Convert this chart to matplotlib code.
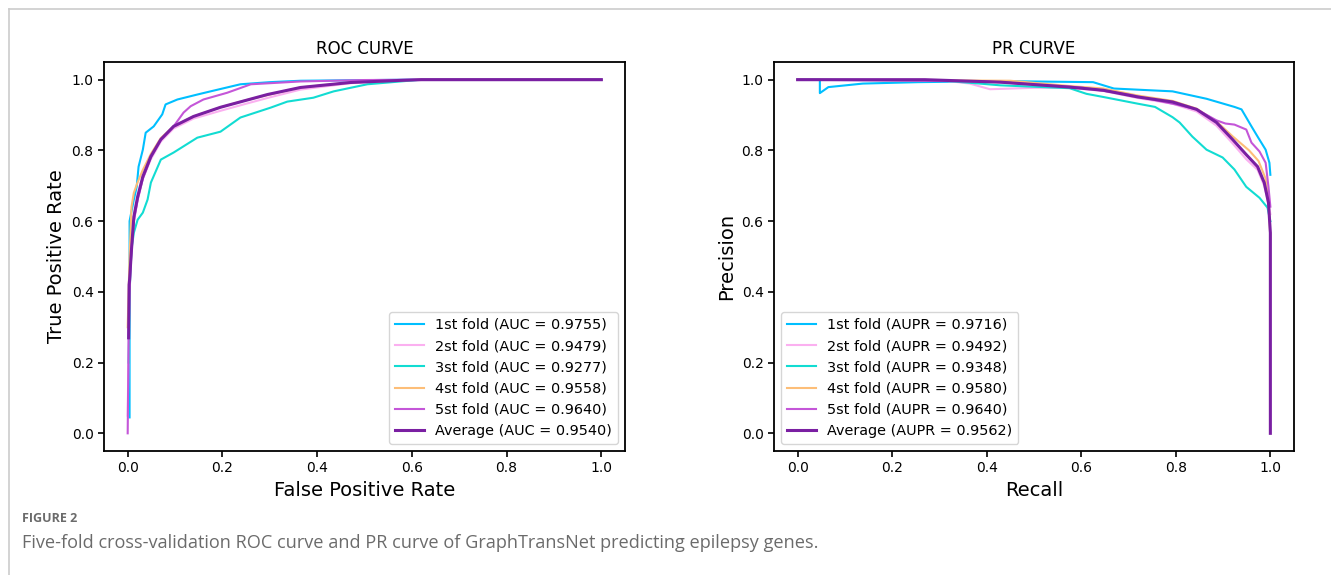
import matplotlib
matplotlib.use('Agg')
import matplotlib.pyplot as plt
from matplotlib.lines import Line2D

# --- data ---
fold_names = ['1st fold', '2st fold', '3st fold', '4st fold', '5st fold', 'Average']
fold_colors = ['#00bfff', '#fbb0f0', '#12dcd2', '#fdbe78', '#c456d8', '#7a1fa2']
auc_vals = [0.9755, 0.9479, 0.9277, 0.9558, 0.9640, 0.9540]
aupr_vals = [0.9716, 0.9492, 0.9348, 0.9580, 0.9640, 0.9562]

# ROC curves (fpr, tpr)
roc_fpr_1 = [0.004, 0.004, 0.013, 0.019, 0.023, 0.032, 0.038, 0.055, 0.073, 0.08, 0.105, 0.147, 0.175, 0.238, 0.30, 0.365, 0.6, 1.0]
roc_tpr_1 = [0.045, 0.60, 0.661, 0.697, 0.754, 0.802, 0.85, 0.868, 0.902, 0.93, 0.944, 0.958, 0.967, 0.987, 0.993, 0.997, 1.0, 1.0]
roc_fpr_2 = [0.0, 0.004, 0.008, 0.013, 0.021, 0.032, 0.049, 0.07, 0.097, 0.139, 0.196, 0.25, 0.30, 0.365, 0.47, 0.58, 0.62, 1.0]
roc_tpr_2 = [0.05, 0.45, 0.52, 0.60, 0.66, 0.72, 0.775, 0.825, 0.862, 0.89, 0.912, 0.932, 0.95, 0.972, 0.99, 0.998, 1.0, 1.0]
roc_fpr_3 = [0.002, 0.004, 0.008, 0.013, 0.021, 0.032, 0.042, 0.049, 0.07, 0.097, 0.147, 0.196, 0.217, 0.238, 0.302, 0.337, 0.392, 0.435, 0.506, 0.576, 0.62, 1.0]
roc_tpr_3 = [0.2, 0.40, 0.52, 0.567, 0.604, 0.624, 0.661, 0.709, 0.774, 0.794, 0.836, 0.853, 0.873, 0.893, 0.921, 0.938, 0.949, 0.967, 0.987, 0.995, 1.0, 1.0]
roc_fpr_4 = [0.0, 0.004, 0.008, 0.013, 0.021, 0.032, 0.049, 0.07, 0.097, 0.139, 0.196, 0.25, 0.30, 0.365, 0.47, 0.576, 0.62, 1.0]
roc_tpr_4 = [0.3, 0.5, 0.64, 0.68, 0.71, 0.745, 0.79, 0.835, 0.868, 0.896, 0.922, 0.942, 0.958, 0.978, 0.992, 0.998, 1.0, 1.0]
roc_fpr_5 = [0.0, 0.002, 0.004, 0.008, 0.013, 0.021, 0.032, 0.049, 0.07, 0.097, 0.118, 0.133, 0.16, 0.21, 0.26, 0.365, 0.5, 0.62, 1.0]
roc_tpr_5 = [0.0, 0.27, 0.40, 0.52, 0.60, 0.66, 0.72, 0.78, 0.83, 0.868, 0.907, 0.925, 0.944, 0.963, 0.987, 0.995, 0.999, 1.0, 1.0]
roc_fpr_avg = [0.002, 0.003, 0.004, 0.008, 0.013, 0.021, 0.032, 0.049, 0.07, 0.097, 0.139, 0.196, 0.295, 0.365, 0.47, 0.576, 0.62, 1.0]
roc_tpr_avg = [0.27, 0.42, 0.434, 0.519, 0.612, 0.669, 0.726, 0.783, 0.831, 0.868, 0.896, 0.922, 0.958, 0.978, 0.992, 0.998, 1.0, 1.0]

# PR curves (recall, precision)
pr_rec_1 = [0.0, 0.047, 0.047, 0.065, 0.138, 0.255, 0.429, 0.625, 0.669, 0.793, 0.865, 0.924, 0.939, 0.96, 0.973, 0.99, 0.998, 1.0]
pr_prec_1 = [1.0, 1.0, 0.962, 0.979, 0.989, 0.993, 0.996, 0.993, 0.975, 0.967, 0.946, 0.923, 0.916, 0.868, 0.839, 0.802, 0.765, 0.731]
pr_rec_2 = [0.0, 0.3, 0.364, 0.407, 0.5, 0.575, 0.647, 0.72, 0.793, 0.844, 0.886, 0.92, 0.949, 0.973, 0.987, 0.996, 1.0]
pr_prec_2 = [1.0, 0.999, 0.989, 0.973, 0.977, 0.977, 0.968, 0.948, 0.932, 0.91, 0.87, 0.82, 0.775, 0.745, 0.70, 0.65, 0.62]
pr_rec_3 = [0.0, 0.3, 0.385, 0.429, 0.575, 0.611, 0.647, 0.72, 0.756, 0.793, 0.808, 0.835, 0.865, 0.899, 0.924, 0.949, 0.977, 0.994, 0.998, 1.0]
pr_prec_3 = [1.0, 0.998, 0.989, 0.984, 0.976, 0.96, 0.951, 0.932, 0.923, 0.894, 0.879, 0.839, 0.802, 0.78, 0.746, 0.697, 0.666, 0.638, 0.612, 0.60]
pr_rec_4 = [0.0, 0.45, 0.575, 0.647, 0.72, 0.793, 0.844, 0.886, 0.92, 0.955, 0.975, 0.99, 0.996, 1.0]
pr_prec_4 = [1.0, 0.997, 0.982, 0.975, 0.955, 0.94, 0.918, 0.882, 0.84, 0.80, 0.77, 0.72, 0.66, 0.55]
pr_rec_5 = [0.0, 0.4, 0.6, 0.7, 0.8, 0.844, 0.886, 0.905, 0.924, 0.949, 0.96, 0.977, 0.99, 0.996, 1.0]
pr_prec_5 = [1.0, 0.995, 0.978, 0.958, 0.93, 0.916, 0.885, 0.876, 0.873, 0.859, 0.822, 0.797, 0.765, 0.697, 0.641]
pr_rec_avg = [0.0, 0.269, 0.429, 0.575, 0.647, 0.72, 0.793, 0.844, 0.886, 0.92, 0.949, 0.973, 0.987, 0.996, 1.0, 1.0]
pr_prec_avg = [1.0, 1.0, 0.993, 0.979, 0.97, 0.951, 0.937, 0.916, 0.879, 0.831, 0.788, 0.754, 0.709, 0.652, 0.567, 0.0]

roc_x = [roc_fpr_1, roc_fpr_2, roc_fpr_3, roc_fpr_4, roc_fpr_5, roc_fpr_avg]
roc_y = [roc_tpr_1, roc_tpr_2, roc_tpr_3, roc_tpr_4, roc_tpr_5, roc_tpr_avg]
pr_x = [pr_rec_1, pr_rec_2, pr_rec_3, pr_rec_4, pr_rec_5, pr_rec_avg]
pr_y = [pr_prec_1, pr_prec_2, pr_prec_3, pr_prec_4, pr_prec_5, pr_prec_avg]

W, H = 1331, 575
fig = plt.figure(figsize=(W / 100, H / 100), dpi=100)

# grey frame of the page (top and left edges)
fig.add_artist(Line2D([9 / W, 1], [1 - 9 / H, 1 - 9 / H], color='#cccccc', lw=1.2))
fig.add_artist(Line2D([9 / W, 9 / W], [0, 1 - 9 / H], color='#cccccc', lw=1.2))

ax1 = fig.add_axes([104 / W, 124 / H, 521 / W, 389 / H])
ax2 = fig.add_axes([774 / W, 124 / H, 520 / W, 389 / H])

for i in range(6):
    lw = 2.2 if i == 5 else 1.5
    ax1.plot(roc_x[i], roc_y[i], color=fold_colors[i], lw=lw,
             label=f'{fold_names[i]} (AUC = {auc_vals[i]:.4f})')
    ax2.plot(pr_x[i], pr_y[i], color=fold_colors[i], lw=lw,
             label=f'{fold_names[i]} (AUPR = {aupr_vals[i]:.4f})')

ax1.set_title('ROC CURVE', fontsize=12)
ax1.set_xlabel('False Positive Rate', fontsize=14)
ax1.set_ylabel('True Positive Rate', fontsize=14)
ax1.legend(loc='lower right', fontsize=10.4)

ax2.set_title('PR CURVE', fontsize=12)
ax2.set_xlabel('Recall', fontsize=14)
ax2.set_ylabel('Precision', fontsize=14)
ax2.legend(loc='lower left', fontsize=10.4)

for ax in (ax1, ax2):
    ax.set_xticks([0.0, 0.2, 0.4, 0.6, 0.8, 1.0])
    ax.set_yticks([0.0, 0.2, 0.4, 0.6, 0.8, 1.0])
    ax.tick_params(labelsize=10, width=1.2, length=4)
    for s in ax.spines.values():
        s.set_linewidth(1.3)

# caption below the figure
fig.text(22 / W, 1 - 519 / H, 'FIGURE 2', fontsize=9, fontweight='bold',
         color='#6b6b6b', family='Open Sans', va='center')
fig.text(22 / W, 1 - 543 / H,
         'Five-fold cross-validation ROC curve and PR curve of GraphTransNet predicting epilepsy genes.',
         fontsize=13.1, color='#6b6b6b', family='Open Sans', va='center')

fig.savefig('out.png', dpi=100)
